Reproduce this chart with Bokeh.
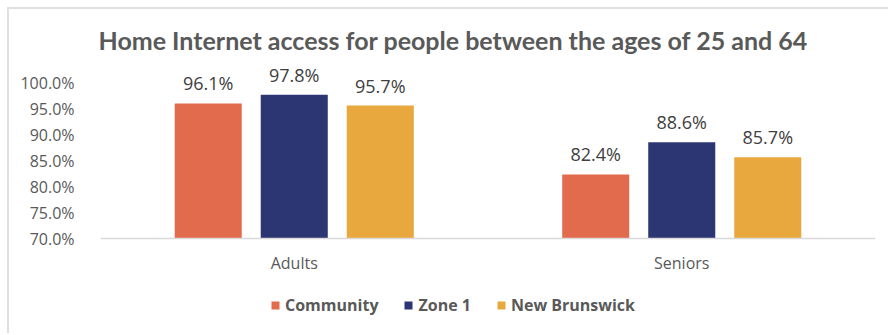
from bokeh.plotting import figure
from bokeh.models import ColumnDataSource, FactorRange, FixedTicker, Legend, LegendItem, CustomJSTickFormatter
from bokeh.transform import dodge
from bokeh.core.properties import value
from bokeh.embed import file_html
from bokeh.resources import INLINE

categories = ["Adults", "Seniors"]
series = ["Community", "Zone 1", "New Brunswick"]
community = [96.1, 82.4]
zone1 = [97.8, 88.6]
new_brunswick = [95.7, 85.7]
colors = ["#E36B4D", "#2C3673", "#E8A83E"]
y_ticks = [70, 75, 80, 85, 90, 95, 100]

src = ColumnDataSource(dict(cat=categories, community=community, zone1=zone1, nb=new_brunswick,
                            community_lbl=[f"{v:.1f}%" for v in community],
                            zone1_lbl=[f"{v:.1f}%" for v in zone1],
                            nb_lbl=[f"{v:.1f}%" for v in new_brunswick]))

p = figure(x_range=FactorRange(*categories), y_range=(52.3, 104), width=881, height=326,
           output_backend="svg", toolbar_location=None,
           min_border_left=91, min_border_right=15, min_border_top=53, min_border_bottom=5,
           title="Home Internet access for people between the ages of 25 and 64")
p.margin = (7, 0, 0, 7)
p.styles = {"border-top": "2px solid #e0e0e0", "border-left": "2px solid #e0e0e0"}
p.outline_line_color = None
p.title.align = "left"
p.title.offset = -2
p.title.standoff = 15
p.title.text_font = "Lato"
p.title.text_font_size = "25px"
p.title.text_font_style = "bold"
p.title.text_color = "#595959"

keys = ["community", "zone1", "nb"]
offsets = [-0.222, 0.0, 0.222]
items = []
for k, off, col, name in zip(keys, offsets, colors, series):
    r = p.vbar(x=dodge("cat", off, range=p.x_range), top=k, bottom=70, width=0.173, source=src,
               fill_color=col, line_color=None)
    p.text(x=dodge("cat", off, range=p.x_range), y=k, text=k + "_lbl", source=src,
           text_align="center", text_baseline="middle", y_offset=-20,
           text_font=value("Open Sans"), text_font_size="18px", text_color="#404040")
    items.append(LegendItem(label=name, renderers=[r]))

p.xgrid.grid_line_color = None
p.ygrid.grid_line_color = None
p.yaxis.ticker = FixedTicker(ticks=y_ticks)
p.yaxis.formatter = CustomJSTickFormatter(code="return tick.toFixed(1) + '%';")
p.yaxis.axis_line_color = None
p.yaxis.major_tick_line_color = None
p.yaxis.minor_tick_line_color = None
p.yaxis.major_label_text_font = "Open Sans"
p.yaxis.major_label_text_font_size = "16px"
p.yaxis.major_label_text_color = "#595959"
p.yaxis.major_label_standoff = 20

p.xaxis.fixed_location = 70
p.xaxis.axis_line_color = "#d9d9d9"
p.xaxis.axis_line_width = 1.5
p.xaxis.major_tick_line_color = None
p.xaxis.minor_tick_line_color = None
p.xaxis.major_label_text_font = "Open Sans"
p.xaxis.major_label_text_font_size = "16px"
p.xaxis.major_label_text_color = "#595959"
p.xaxis.major_label_standoff = 7

legend = Legend(items=items, orientation="horizontal", location=(170, 14),
                label_text_font="Open Sans", label_text_font_size="16px", label_text_font_style="bold",
                label_text_color="#595959", glyph_width=10, glyph_height=10, spacing=25,
                label_standoff=5, border_line_color=None, background_fill_alpha=0, padding=5)
p.add_layout(legend, "center")

open("out.html", "w").write(file_html(p, INLINE))
